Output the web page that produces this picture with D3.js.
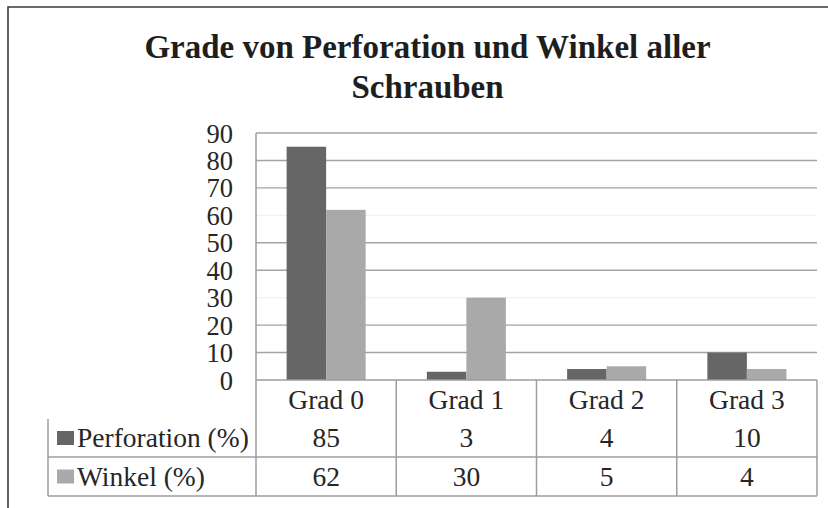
<!DOCTYPE html>
<html>
<head>
<meta charset="utf-8">
<script src="https://cdn.jsdelivr.net/npm/d3@7"></script>
<style>
  html, body { margin: 0; padding: 0; background: #fff; }
  svg { display: block; }
  text { font-family: "Liberation Serif", "Times New Roman", serif; fill: #262626; }
</style>
</head>
<body>
<svg id="chart" width="828" height="508"></svg>
<script>
// ---- data ----
const categories = ["Grad 0", "Grad 1", "Grad 2", "Grad 3"];
const seriesNames = ["Perforation (%)", "Winkel (%)"];
const perforation = [85, 3, 4, 10];
const winkel = [62, 30, 5, 4];
const yTicks = [0, 10, 20, 30, 40, 50, 60, 70, 80, 90];
const fadedGridTicks = [30, 60];
const titleLines = ["Grade von Perforation und Winkel aller", "Schrauben"];

const seriesValues = [perforation, winkel];
const seriesColors = ["#666667", "#a9a9aa"];

const svg = d3.select("#chart");
const W = 828, H = 508;
const plot = { left: 256, right: 817, top: 133, bottom: 380 };
const table = { left: 48, rowTops: [380, 419, 457], bottom: 496 };
const lineColor = "#9d9d9d";

// frame (cropped chart border)
svg.append("path")
  .attr("d", `M8,${H} L8,7 L${W},7`)
  .attr("fill", "none").attr("stroke", "#3a3a3a").attr("stroke-width", 1.6);

// title
const title = svg.append("text")
  .attr("text-anchor", "middle")
  .style("font-size", "33px").style("font-weight", "bold").style("fill", "#1e1e1e");
titleLines.forEach((t, i) => {
  title.append("tspan").attr("x", 427.5).attr("y", 58 + i * 39.5).text(t);
});

// scales
const x = d3.scaleBand().domain(categories).range([plot.left, plot.right]).paddingInner(0).paddingOuter(0);
const x1 = d3.scaleBand().domain(seriesNames).range([0, x.bandwidth()]).paddingInner(0).paddingOuter(0.775);
const y = d3.scaleLinear().domain([0, 90]).range([plot.bottom, plot.top]);

// gridlines
svg.append("g").selectAll("line").data(yTicks.filter(d => d > 0)).join("line")
  .attr("x1", plot.left).attr("x2", plot.right)
  .attr("y1", d => y(d)).attr("y2", d => y(d))
  .attr("stroke", d => fadedGridTicks.includes(d) ? "#f1f1f1" : "#a3a3a3")
  .attr("stroke-width", 1.4);

// y axis labels
const yAxis = d3.axisLeft(y).tickValues(yTicks).tickSize(0).tickPadding(23).tickFormat(d3.format("d"));
const gy = svg.append("g").attr("transform", `translate(${plot.left},0)`).call(yAxis);
gy.select(".domain").remove();
gy.selectAll("text")
  .style("font-size", "26.5px").style("font-family", "Liberation Serif, serif")
  .attr("fill", "#262626").attr("dy", "0.34em");

// bars
const groups = svg.append("g").selectAll("g").data(categories).join("g")
  .attr("transform", d => `translate(${x(d)},0)`);
groups.selectAll("rect")
  .data((c, ci) => seriesNames.map((s, si) => ({ s, si, v: seriesValues[si][ci] })))
  .join("rect")
  .attr("x", d => x1(d.s))
  .attr("width", x1.bandwidth())
  .attr("y", d => y(d.v))
  .attr("height", d => y(0) - y(d.v))
  .attr("fill", d => seriesColors[d.si]);

// table lines
const tg = svg.append("g").attr("stroke", lineColor).attr("stroke-width", 1.5);
tg.append("line").attr("x1", plot.left).attr("x2", plot.right).attr("y1", y(0)).attr("y2", y(0));
[table.rowTops[2], table.bottom].forEach(yy => {
  tg.append("line").attr("x1", table.left).attr("x2", plot.right).attr("y1", yy).attr("y2", yy);
});
tg.append("line").attr("x1", plot.left).attr("x2", plot.left).attr("y1", plot.top).attr("y2", table.bottom);
tg.append("line").attr("x1", table.left).attr("x2", table.left).attr("y1", table.rowTops[1]).attr("y2", table.bottom);
categories.forEach(c => {
  const xx = x(c) + x.bandwidth();
  tg.append("line").attr("x1", xx).attr("x2", xx).attr("y1", y(0)).attr("y2", table.bottom);
});

// header labels
const rowCenters = [399.5, 438, 476.5];
const tableFont = "27.5px";
svg.append("g").selectAll("text").data(categories).join("text")
  .attr("x", d => x(d) + x.bandwidth() / 2)
  .attr("y", rowCenters[0]).attr("dy", "0.34em")
  .attr("text-anchor", "middle").style("font-size", tableFont)
  .text(d => d);

// data rows
seriesNames.forEach((s, si) => {
  const cy = rowCenters[si + 1];
  svg.append("rect").attr("x", 57).attr("y", cy - 7).attr("width", 17).attr("height", 14)
    .attr("fill", seriesColors[si]);
  svg.append("text").attr("x", 77).attr("y", cy).attr("dy", "0.34em")
    .style("font-size", tableFont).text(s);
  svg.append("g").selectAll("text").data(categories).join("text")
    .attr("x", d => x(d) + x.bandwidth() / 2)
    .attr("y", cy).attr("dy", "0.34em")
    .attr("text-anchor", "middle").style("font-size", tableFont)
    .text((d, ci) => seriesValues[si][ci]);
});
</script>
</body>
</html>
